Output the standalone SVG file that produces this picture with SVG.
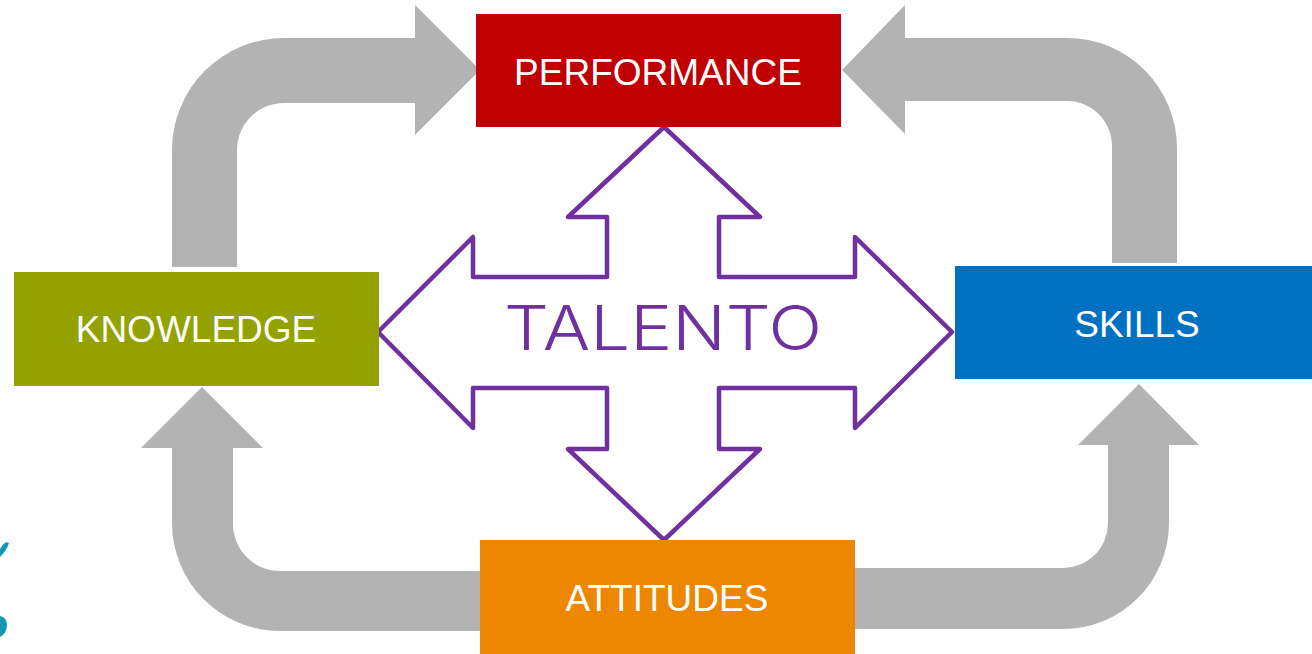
<svg xmlns="http://www.w3.org/2000/svg" width="1312" height="654" viewBox="0 0 1312 654">
<style>
.flow{fill:#B3B3B3;stroke:none}
.lbl{font-family:"Liberation Sans",Arial,sans-serif;font-size:37px;fill:#FFFFFF;text-anchor:middle}
.talent{fill:#FFFFFF;stroke:#7030A0;stroke-width:4.5;stroke-linejoin:round}
</style>
<rect width="1312" height="654" fill="#FFFFFF"/>
<g id="decor">
<path d="M0,549 Q5,540 9,543 Q7,550 0,557 Z" fill="#1397B5"/>
<path d="M0,616 Q7,617 7,626 Q6,634 0,637 Z" fill="#1397B5"/>
</g>
<g id="connectors">
<path class="flow" d="M172,267 L172,150 A112,112 0 0 1 284,38 L415,38 L415,5 L480,70 L415,135 L415,103 L284,103 A47,47 0 0 0 237,150 L237,267 Z"/>
<path class="flow" d="M1177,263 L1177,148 A110,110 0 0 0 1067,38 L905,38 L905,5 L842,70 L905,134 L905,101 L1067,101 A45,45 0 0 1 1112,146 L1112,263 Z"/>
<path class="flow" d="M202,387 L263,448 L233,448 L233,524 A47,47 0 0 0 280,571 L490,571 L490,631 L280,631 A108,108 0 0 1 172,523 L172,448 L141,448 Z"/>
<path class="flow" d="M1139,384 L1199,445 L1169,445 L1169,523 A106,106 0 0 1 1063,629 L845,629 L845,568 L1063,568 A45,45 0 0 0 1108,523 L1108,445 L1078,445 Z"/>
</g>
<g id="talento">
<polygon class="talent" points="664,127 760,217 719,217 719,277 855,277 855,237 952,332 855,428 855,388 719,388 719,449 760,449 664,540 568,449 607,449 607,388 473,388 473,428 378,332 473,237 473,277 607,277 607,217 568,217"/>
<text x="504" y="350" textLength="318" lengthAdjust="spacingAndGlyphs" font-family="Inter,'Liberation Sans',Arial,sans-serif" font-weight="300" font-size="62" fill="#7030A0">TALENTO</text>
</g>
<g id="performance">
<rect x="476" y="14" width="365" height="113" fill="#C00000"/>
<text class="lbl" x="658" y="85">PERFORMANCE</text>
</g>
<g id="knowledge">
<rect x="14" y="272" width="365" height="114" fill="#94A200"/>
<text class="lbl" x="196" y="342">KNOWLEDGE</text>
</g>
<g id="skills">
<rect x="955" y="266" width="357" height="113" fill="#0070C0"/>
<text class="lbl" x="1137" y="337">SKILLS</text>
</g>
<g id="attitudes">
<rect x="480" y="540" width="375" height="114" fill="#EE8700"/>
<text class="lbl" x="667" y="611">ATTITUDES</text>
</g>
</svg>
